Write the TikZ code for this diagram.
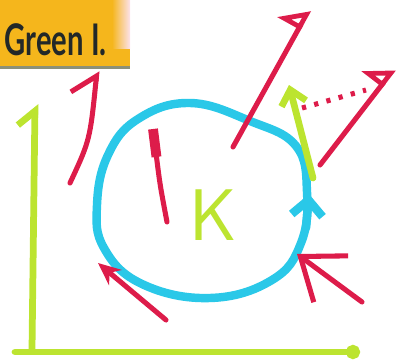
\documentclass[tikz,border=0pt]{standalone}
\usepackage{fontspec}
\usepackage{xcolor}
\usepackage{tikz}
\usetikzlibrary{arrows.meta,calc}
\newfontfamily\titlefont[FakeStretch=0.67]{Lato}
\definecolor{sketchred}{RGB}{221,28,74}
\definecolor{sketchcyan}{RGB}{42,200,232}
\definecolor{sketchgreen}{RGB}{188,228,48}
\definecolor{sketchorange}{RGB}{245,182,28}
\definecolor{sketchshadow}{RGB}{140,145,120}
\definecolor{sketchpink}{RGB}{252,226,236}
\definecolor{sketchtext}{RGB}{34,40,40}
\tikzset{
  redpen/.style={draw=sketchred, line width=3.6pt, line cap=round, line join=round},
  cyanpen/.style={draw=sketchcyan, line width=6pt, line cap=round, line join=round},
  greenpen/.style={draw=sketchgreen, line width=4.8pt, line cap=round, line join=round},
  redhead/.style={-{Triangle[open, left, length=14pt, width=34pt, line width=3.4pt]}},
  dotline/.style={draw=sketchred, line width=3.6pt, dash pattern=on 3pt off 6pt}
}

\begin{document}
\begin{tikzpicture}[x=0.025cm, y=-0.025cm]
\useasboundingbox (0,0) rectangle (401,363);

\fill[sketchshadow] (0,65) rectangle (130,69);
\fill[sketchorange] (0,0) rectangle (130,66);
\shade[left color=sketchorange, right color=sketchpink] (112,0) rectangle (130,48);
\node[anchor=base east, inner sep=0pt, text=sketchtext,
  font=\titlefont\bfseries\fontsize{31}{31}\selectfont] (title) at (107,55) {Green I.};

% axes
\coordinate (origin) at (32,350);
\coordinate (ytop) at (35,104);
\coordinate (xleft) at (15,352);
\coordinate (xright) at (360,352);
\draw[greenpen, -{Straight Barb[left, length=10pt, width=24pt]}] (origin) -- (ytop);
\draw[greenpen, -{Circle[length=10pt]}] (xleft) -- (xright);

% the loop
\draw[cyanpen] plot[smooth cycle, tension=0.7] coordinates {
  (190,103) (250,121) (296,146) (307,192) (301,243) (272,280) (210,298)
  (142,284) (104,248) (97,205) (108,155) (138,119)};
\coordinate (loopA) at (306,228);
\coordinate (loopB) at (309,194);
\draw[cyanpen, -{Straight Barb[length=11pt, width=22pt]}] (loopA) -- (loopB);

\node[text=sketchgreen, inner sep=0pt,
  font=\sffamily\fontsize{52}{52}\selectfont] (kay) at (213,215) {K};

% green vector
\coordinate (gtail) at (313,178);
\coordinate (gtip) at (289,85);
\draw[greenpen, -{Straight Barb[length=10pt, width=18pt]}] (gtail) -- (gtip);

% red arrows
\coordinate (r1tail) at (70,183);
\coordinate (r1tip) at (97,71);
\draw[redpen, -{Straight Barb[left, length=13pt, width=34pt]}]
  (r1tail) .. controls (90,140) .. (r1tip);

\coordinate (r2tail) at (233,147);
\coordinate (r2tip) at (309,10);
\draw[redpen, redhead] (r2tail) -- (r2tip);

\coordinate (r3tail) at (320,165);
\coordinate (r3tip) at (394,69);
\draw[redpen, redhead] (r3tail) -- (r3tip);

\coordinate (dotA) at (302,108);
\coordinate (dotB) at (366,90);
\draw[dotline] (dotA) -- (dotB);

\coordinate (r5tail) at (167,222);
\coordinate (r5tip) at (153,129);
\draw[redpen, -{Rectangle[length=20pt, width=7pt]}]
  (r5tail) .. controls (160,185) .. (r5tip);

\coordinate (r6tail) at (166,320);
\coordinate (r6tip) at (98,263);
\draw[redpen, -{Stealth[length=16pt, width=14pt]}] (r6tail) -- (r6tip);

\coordinate (r7tail) at (362,302);
\coordinate (r7tip) at (297,254);
\draw[redpen, -{Straight Barb[length=27pt, width=41pt]}] (r7tail) -- (r7tip);
\end{tikzpicture}
\end{document}
